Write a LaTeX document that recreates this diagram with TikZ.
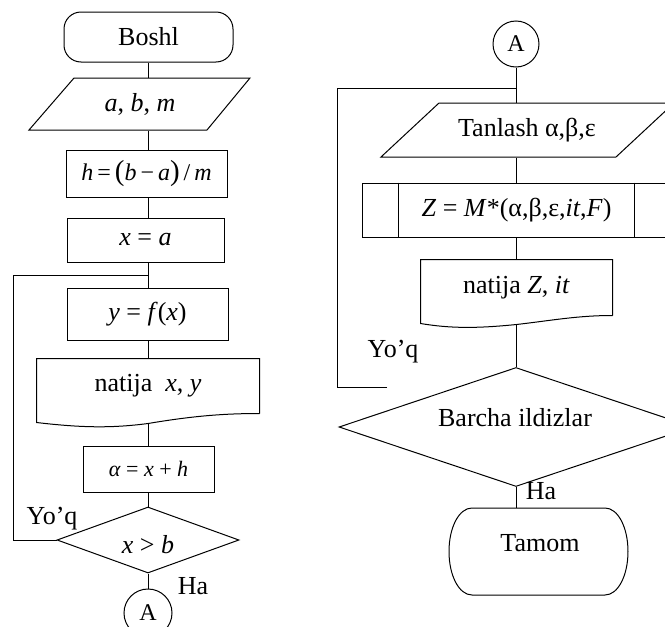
\documentclass[tikz,border=0pt]{standalone}
\usepackage{fontspec}
\setmainfont{Liberation Serif}
\usetikzlibrary{shapes.geometric,calc}
\begin{document}
\begin{tikzpicture}[x=1pt,y=-1pt,line width=1pt,
  every node/.style={font=\fontsize{26}{28}\selectfont, inner sep=0pt},
  box/.style={draw, rectangle},
  plain/.style={rectangle},
  decide/.style={draw, diamond, inner sep=0pt},
  conn/.style={draw, circle, font=\fontsize{24}{26}\selectfont},
  term/.style={draw, rectangle, rounded corners=17pt},
  lbl/.style={font=\fontsize{26}{28}\selectfont}]
\useasboundingbox (0,0) rectangle (665,627);
\clip (0,0) rectangle (665,627);

% ---------- left column ----------
\coordinate (L) at (148,0);
\node[term, minimum width=169, minimum height=50] (boshl) at (148.5,37) {Boshl};
\node[plain, minimum width=137, minimum height=52] (abm) at (140,104) {\textit{a}, \textit{b}, \textit{m}};
\draw ($(abm)+(-111,26)$) -- ($(abm)+(67,26)$) -- ($(abm)+(110,-26)$) -- ($(abm)+(-66,-26)$) -- cycle;
\node[box, minimum width=161, minimum height=47, font=\fontsize{24}{26}\selectfont] (hb) at (146.5,173.5)
  {\textit{h}\,=\,{\fontsize{29}{29}\selectfont(}\textit{b}\,−\,\textit{a}{\fontsize{29}{29}\selectfont)}\,/\,\textit{m}};
\node[box, minimum width=157, minimum height=44] (xa) at (145.5,240) {\textit{x} = \textit{a}};
\node[box, minimum width=161, minimum height=52] (yf) at (147.5,314) {\textit{y} = \textit{f}(\textit{x})};
\node[plain, minimum width=222, minimum height=54] (nxy) at (148,386) {natija \ \textit{x}, \textit{y}};
\draw (nxy.south east) -- (nxy.north east) -- (nxy.north west) -- ($(nxy.south west)+(0,9)$)
  .. controls ($(nxy.south west)+(43,14)$) and ($(nxy.south)+(-38,15)$) .. ($(nxy.south)+(0,10)$)
  .. controls ($(nxy.south)+(42,3)$) and ($(nxy.south east)+(-39,0)$) .. (nxy.south east);
\coordinate (nxyb) at ($(nxy.south)+(0,10)$);
\node[box, minimum width=131, minimum height=46, font=\fontsize{22}{24}\selectfont] (al) at (148.5,469) {\textit{α} = \textit{x} + \textit{h}};
\node[decide, minimum width=182, minimum height=66] (cond) at (148,540) {};
\node (condt) at (148,545) {\textit{x} > \textit{b}};
\node[lbl] (yq1) at (52,519) {Yo’q};
\node[lbl] (ha1) at (193,586) {Ha};
\node[conn, minimum size=48] (A1) at (148,613) {A};

\draw (L |- boshl.south) -- (L |- abm.north);
\draw (L |- abm.south) -- (L |- hb.north);
\draw (L |- hb.south) -- (L |- xa.north);
\draw (L |- xa.south) -- (L |- yf.north);
\draw (L |- yf.south) -- (L |- nxy.north);
\draw (nxyb) -- (nxyb |- al.north);
\draw (L |- al.south) -- (cond.north);
\draw (cond.south) -- (A1.north);
\coordinate (j1) at (148,275);
\coordinate (lp1) at (13,275);
\draw (cond.west) -| (lp1) -- (j1);

% ---------- right column ----------
\coordinate (R) at (516,0);
\node[conn, minimum size=46] (A2) at (516,44) {A};
\node[plain, minimum width=150, minimum height=54] (tan) at (527,130) {Tanlash α,β,ε};
\draw ($(tan)+(-146,27)$) -- ($(tan)+(89,27)$) -- ($(tan)+(147,-27)$) -- ($(tan)+(-88,-27)$) -- cycle;
\node[box, minimum width=309, minimum height=54] (zb) at (516.5,210) {\textit{Z} = \textit{M}*(α,β,ε,\textit{it},\textit{F})};
\draw ($(zb.north west)+(37,0)$) -- ($(zb.south west)+(37,0)$);
\draw ($(zb.north east)+(-37,0)$) -- ($(zb.south east)+(-37,0)$);
\node[plain, minimum width=191, minimum height=55] (nz) at (516.5,287.5) {natija \textit{Z}, \textit{it}};
\draw (nz.south east) -- (nz.north east) -- (nz.north west) -- ($(nz.south west)+(0,8)$)
  .. controls ($(nz.south west)+(30,13)$) and ($(nz.south)+(-40,13)$) .. ($(nz.south)+(0,9)$)
  .. controls ($(nz.south)+(35,5)$) and ($(nz.south east)+(-35,0)$) .. (nz.south east);
\coordinate (nzb) at (516,324);
\node[decide, minimum width=354, minimum height=119] (bd) at (516,427) {};
\node (bdt) at (515,418) {Barcha ildizlar};
\node[lbl] (yq2) at (393,352) {Yo’q};
\node[lbl] (ha2) at (541,491) {Ha};
\node[plain, minimum width=179, minimum height=87] (tam) at (538.5,551.5) {};
\draw ($(tam)+(66.5,-43.5)$) .. controls ($(tam)+(79.5,-43.5)$) and ($(tam)+(89.5,-24)$) .. ($(tam)+(89.5,0)$)
  .. controls ($(tam)+(89.5,24)$) and ($(tam)+(79.5,43.5)$) .. ($(tam)+(66.5,43.5)$)
  -- ($(tam)+(-66.5,43.5)$)
  .. controls ($(tam)+(-79.5,43.5)$) and ($(tam)+(-89.5,24)$) .. ($(tam)+(-89.5,0)$)
  .. controls ($(tam)+(-89.5,-24)$) and ($(tam)+(-79.5,-43.5)$) .. ($(tam)+(-66.5,-43.5)$) -- cycle;
\node (tamt) at (540,543) {Tamom};

\draw (A2.south) -- (R |- tan.north);
\draw (R |- tan.south) -- (R |- zb.north);
\draw (R |- zb.south) -- (R |- nz.north);
\draw (nzb) -- (bd.north);
\draw (bd.south) -- (bd.south |- tam.north);
\coordinate (j2) at (516,88);
\coordinate (lp2b) at (387,387);
\coordinate (lp2c) at (337,387);
\draw (lp2b) -- (lp2c) |- (j2);
\end{tikzpicture}
\end{document}
